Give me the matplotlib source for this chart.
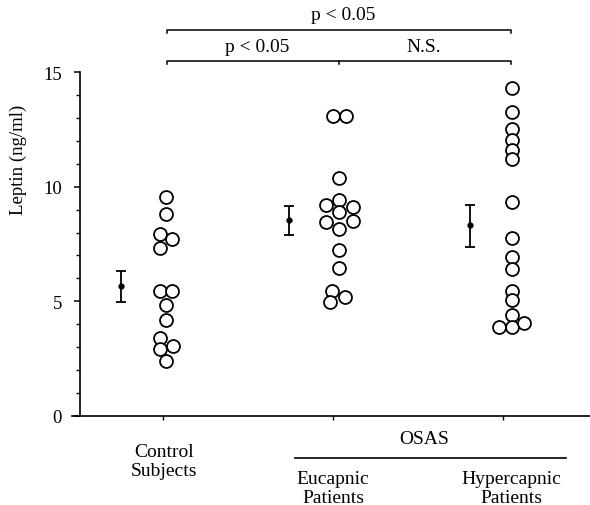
import matplotlib.pyplot as plt
import numpy as np

plt.rcParams['font.family'] = ['Liberation Serif', 'DejaVu Serif']

# data (ng/ml)
groups = ['Control\nSubjects', 'Eucapnic\nPatients', 'Hypercapnic\nPatients']
control = [9.56, 8.82, 7.95, 7.73, 7.34, 5.47, 5.47, 4.82, 4.19, 3.41, 2.93, 3.07, 2.41]
eucapnic = [13.1, 13.1, 10.39, 9.21, 9.40, 9.13, 8.91, 8.47, 8.49, 8.17, 7.22, 6.46, 5.43, 5.20, 4.98]
hypercapnic = [14.32, 13.27, 12.53, 12.02, 11.62, 11.19, 9.34, 7.77, 6.94, 6.42,
               5.47, 5.07, 4.41, 3.89, 3.89, 4.06]
means = [5.68, 8.53, 8.34]
err_low = [0.70, 0.63, 0.96]
err_high = [0.65, 0.61, 0.87]

# horizontal spread of the dots (pixels from the group tick)
spread = [
    [3, 3, -3, 9, -3, -3, 9, 3, 3, -3, -3, 10, 3],
    [0, 13, 6, -7, 6, 20, 6, -7, 20, 6, 6, 6, -1, 12, -3],
    [9] * 13 + [-4, 9, 21],
]
err_shift = [-42, -44, -33]
GW = 170.0  # px per group

W, H = 590, 506
fig = plt.figure(figsize=(W / 100, H / 100), dpi=100)


def fx(px):
    return px / W


def fy(py):
    return 1 - py / H


ax = fig.add_axes([fx(72), fy(417), fx(590) - fx(72), fy(73) - fy(417)])
x0 = (72 - 163) / GW
x1 = (590 - 163) / GW
ax.set_xlim(x0, x1)
ax.set_ylim(0, 15)

for i, vals in enumerate([control, eucapnic, hypercapnic]):
    xs = i + np.array(spread[i]) / GW
    ax.plot(xs, vals, 'o', ms=9.3, mfc='white', mec='black', mew=1.3, ls='none',
            clip_on=False, zorder=3)
    ax.errorbar(i + err_shift[i] / GW, means[i], yerr=[[err_low[i]], [err_high[i]]],
                fmt='o', ms=3.5, color='black', ecolor='black', elinewidth=1.3,
                capsize=3.5, capthick=1.3, clip_on=False, zorder=3)

for s in ['top', 'right']:
    ax.spines[s].set_visible(False)
ax.spines['left'].set_position(('axes', (80 - 72) / (590 - 72)))
ax.spines['left'].set_linewidth(1.2)
ax.spines['bottom'].set_linewidth(1.2)

ax.set_yticks([0, 5, 10, 15])
ax.set_yticks(np.arange(0, 16, 1), minor=True)
ax.tick_params(axis='y', which='major', length=4, width=1.1, labelsize=13.5, pad=9)
ax.tick_params(axis='y', which='minor', length=3, width=1.0)
ax.set_xticks([0, 1, 2])
ax.set_xticklabels([])
ax.tick_params(axis='x', length=3, width=1.0)

fig.text(fx(18), fy(160), 'Leptin (ng/ml)', rotation=90, ha='center', va='center',
         fontsize=13.5)

# group labels below the axis
fs = 14
fig.text(fx(164), fy(462), groups[0], ha='center', va='center', fontsize=fs,
         linespacing=1.1)
fig.text(fx(333), fy(489), groups[1], ha='center', va='center', fontsize=fs,
         linespacing=1.1)
fig.text(fx(511), fy(489), groups[2], ha='center', va='center', fontsize=fs,
         linespacing=1.1)
fig.text(fx(424), fy(440), 'OSAS', ha='center', va='center', fontsize=fs)
fig.add_artist(plt.Line2D([fx(295), fx(566)], [fy(459), fy(459)], color='black', lw=1.2))

# significance brackets
c0, c1, c2 = 167, 339, 511
lw = 1.1
fig.add_artist(plt.Line2D([fx(c0), fx(c0), fx(c2), fx(c2)],
                          [fy(34), fy(31), fy(31), fy(34)], color='black', lw=lw))
fig.add_artist(plt.Line2D([fx(c0), fx(c0), fx(c2), fx(c2)],
                          [fy(65), fy(62), fy(62), fy(65)], color='black', lw=lw))
fig.add_artist(plt.Line2D([fx(c1), fx(c1)], [fy(62), fy(65)], color='black', lw=lw))
fig.text(fx(343), fy(16), 'p < 0.05', ha='center', va='center', fontsize=fs)
fig.text(fx(257), fy(48), 'p < 0.05', ha='center', va='center', fontsize=fs)
fig.text(fx(424), fy(48), 'N.S.', ha='center', va='center', fontsize=fs)

fig.savefig('out.png', dpi=100)
